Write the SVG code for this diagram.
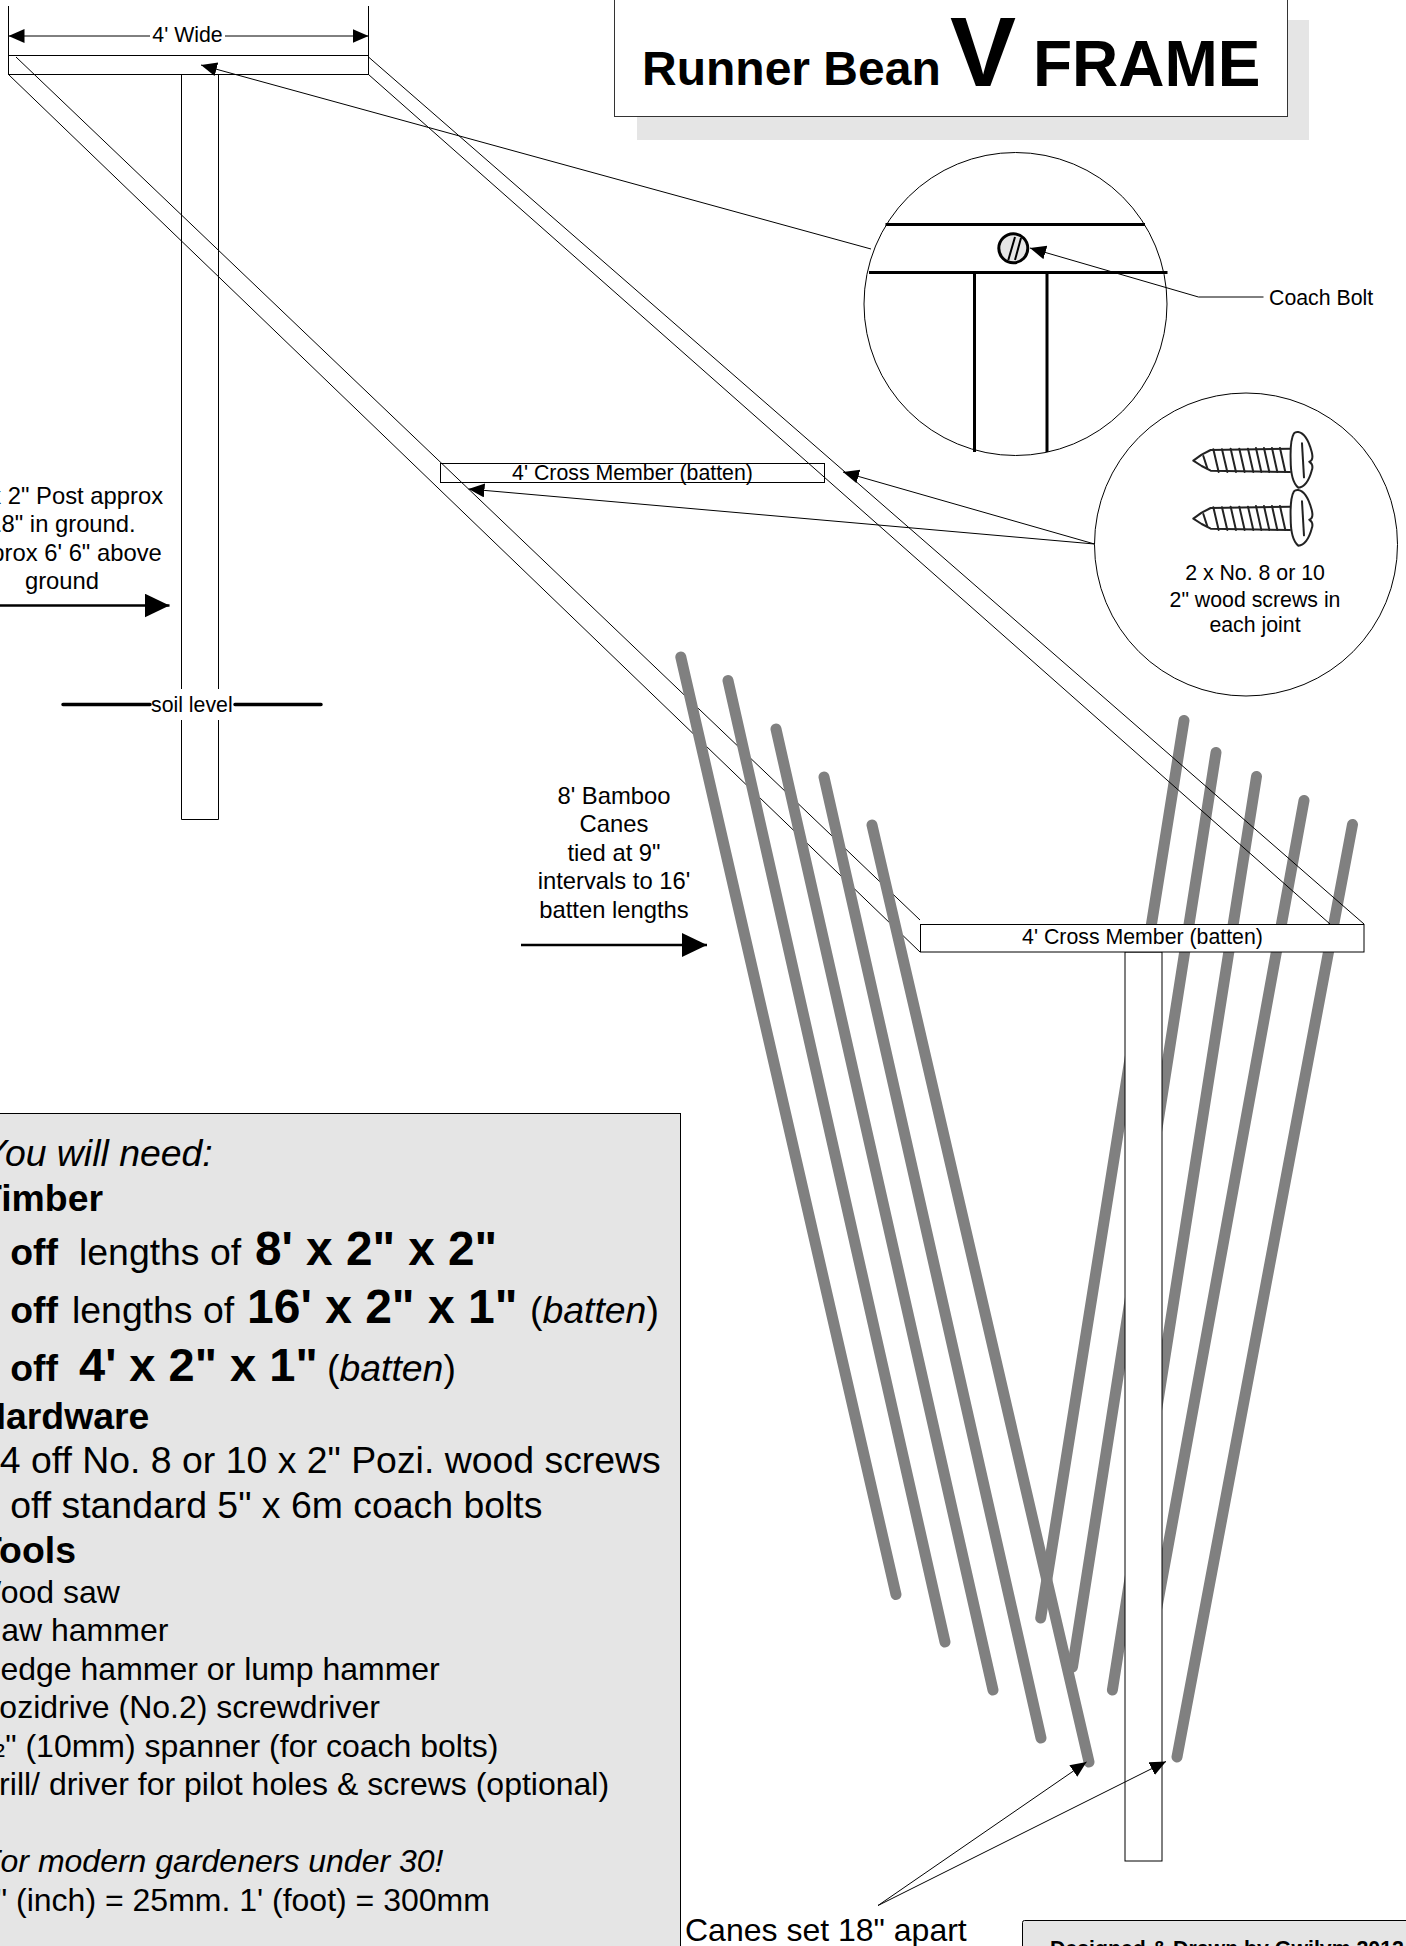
<svg xmlns="http://www.w3.org/2000/svg" width="1406" height="1946" viewBox="0 0 1406 1946">
<style>
text{font-family:"Liberation Sans",Arial,sans-serif;fill:#000}
.s{font-size:21.3px}.m{font-size:23.8px}.c{text-anchor:middle}
.l{font-size:37.4px}.t{font-size:32px}.h{font-size:47.7px;font-weight:bold}.b{font-weight:bold}.i{font-style:italic}
.ln{fill:none;stroke:#000;stroke-width:1}
.box{fill:#fff;stroke:#000;stroke-width:1}
.open{fill:none;stroke:#000;stroke-width:1}
.thick{fill:none;stroke:#000;stroke-width:3.5;stroke-linecap:round}
.cane{fill:none;stroke:#808080;stroke-width:11;stroke-linecap:round}
.panel{fill:#e5e5e5;stroke:#000;stroke-width:1}
.arr{fill:none;stroke:#000;stroke-width:1;marker-end:url(#a)}
.big{fill:none;stroke:#000;stroke-width:2.5;marker-end:url(#A)}
.sc{fill:none;stroke:#222;stroke-width:6;stroke-linejoin:round;stroke-linecap:round}
</style>
<defs>
<marker id="a" markerUnits="userSpaceOnUse" markerWidth="18" markerHeight="16" refX="16" refY="7" orient="auto"><path d="M0,0L16,7L0,14Z" fill="#000"/></marker>
<marker id="A" markerUnits="userSpaceOnUse" markerWidth="26" markerHeight="26" refX="25" refY="12" orient="auto"><path d="M0,0L25,12L0,24Z" fill="#000"/></marker>
<filter id="soft" x="-5%" y="-5%" width="110%" height="110%"><feGaussianBlur stdDeviation="1"/></filter>
<g id="screw" class="sc" filter="url(#soft)">
<path d="M70,152L95,134L122,120L360,116M70,152L95,168L122,182L360,186"/>
<path d="M100,138L112,175M130,118L146,186M156,118L172,186M182,116L198,186M208,116L224,186M234,116L250,186M258,114L274,186M282,114L298,186M306,114L322,186M330,114L346,186"/>
<path d="M372,70Q360,90 362,150Q362,215 385,233Q412,230 425,182Q432,165 418,155Q432,150 425,125Q410,70 385,66Q376,65 372,70ZM396,100L402,202"/>
</g>
</defs>

<g id="title">
<rect x="637" y="20" width="672" height="120" fill="#e5e5e5"/>
<rect class="box" x="614.5" y="-5" width="673" height="121.5" style="stroke:#333"/>
<text class="b" y="85" x="642" font-size="48">Runner Bean</text>
<text class="b" y="86" x="950" font-size="99">V</text>
<text class="b" y="86" x="1033" font-size="64">FRAME</text>
</g>

<g id="canes-right">
<path class="cane" d="M1184,720.5L1040.7,1618M1216,752.5L1072.5,1667M1256.5,776.5L1112.4,1690M1304,800.5L1140,1700M1352.5,824.5L1177,1757"/>
</g>

<g id="post-1"><path class="ln" d="M181.5,74.5V689M218.5,74.5V689M181.5,720V819.5H218.5V720"/></g>
<g id="post-2"><rect class="box" x="1125" y="952" width="37" height="909" style="stroke-width:1;stroke:#000"/></g>

<g id="batten-left"><path class="ln" d="M8.5,74.5L920,952M16,57L920,920"/></g>
<g id="batten-right"><path class="ln" d="M368.5,74.5L1330,924M368.5,57L1364,924"/></g>

<g id="canes-left">
<path class="cane" d="M680.8,657L896,1594.5M728,680.5L945,1642M776,729L993,1690M824,777L1041,1738M872,825L1089,1762"/>
</g>

<g id="batten-top"><rect class="open" x="8.5" y="55.5" width="360" height="19"/></g>
<g id="dimension-width">
<path class="ln" d="M8.5,6V55M368.5,6V55"/>
<path class="ln" d="M150,36H8.5" style="marker-end:url(#a)"/>
<path class="ln" d="M225,36H368.5" style="marker-end:url(#a)"/>
<text class="s c" x="187.5" y="41.5">4' Wide</text>
</g>

<g id="cross-member-mid"><rect class="open" x="440.5" y="463.5" width="384" height="19"/>
<text class="s c" x="632.5" y="480">4' Cross Member (batten)</text></g>
<g id="cross-member-low"><rect class="box" x="920.5" y="924.5" width="443.5" height="27.5"/>
<text class="s c" x="1142.5" y="944">4' Cross Member (batten)</text></g>

<g id="post-label">
<text class="m c" x="62" y="503.5">2" x 2" Post approx</text>
<text class="m c" x="62" y="532">18" in ground.</text>
<text class="m c" x="62" y="560.5">Approx 6' 6" above</text>
<text class="m c" x="62" y="589">ground</text>
</g>
<g id="soil-level">
<path class="thick" d="M63,704.5H150M235,704.5H321"/>
<text class="s" x="151" y="711.5">soil level</text>
</g>
<g id="bamboo-label">
<text class="m c" x="614" y="804">8' Bamboo</text>
<text class="m c" x="614" y="832">Canes</text>
<text class="m c" x="614" y="860.5">tied at 9"</text>
<text class="m c" x="614" y="889">intervals to 16'</text>
<text class="m c" x="614" y="918">batten lengths</text>
</g>

<g id="connectors">
<path class="arr" d="M871,249L201,65"/>
<path class="arr" d="M1263.5,297H1198.5L1030,248"/>
<path class="arr" d="M1094.5,544L843,472"/>
<path class="arr" d="M1094.5,544L468.5,489"/>
<path class="big" d="M0,605.5H169.5"/>
<path class="big" d="M521,945H707"/>
<path class="arr" d="M878,1905.5L1086.5,1762"/>
<path class="arr" d="M878,1905.5L1166,1761.5"/>
</g>

<g id="detail-bolt">
<circle class="open" cx="1015.5" cy="304" r="151.5"/>
<path class="thick" style="stroke-linecap:butt;stroke-width:3" d="M885.5,224.5H1145M869,272.5H1167.5M974.5,273V452M1047,273V452"/>
<circle cx="1013.3" cy="248.3" r="14.5" fill="#e5e5e5" stroke="#000" stroke-width="3"/>
<path fill="none" stroke="#000" stroke-width="2" d="M1015,237L1008.3,260M1021,238L1015,260"/>
<text class="s" x="1269" y="304.5">Coach Bolt</text>
</g>

<g id="detail-screws">
<circle class="open" cx="1246" cy="544.5" r="151.5"/>
<use href="#screw" transform="translate(1170,410) scale(.3333)"/>
<use href="#screw" transform="translate(1170,468) scale(.3333)"/>
<text class="s c" x="1255" y="580">2 x No. 8 or 10</text>
<text class="s c" x="1255" y="606.5">2" wood screws in</text>
<text class="s c" x="1255" y="632">each joint</text>
</g>

<g id="materials">
<rect class="panel" x="-5" y="1113.5" width="685.5" height="840"/>
<text class="l i" x="-18" y="1166">You will need:</text>
<text class="l b" x="-21" y="1210.5">Timber</text>
<text class="l" y="1264.5"><tspan class="b" x="-21">2 off</tspan><tspan x="79">lengths of</tspan></text>
<text class="h" x="255" y="1264.5">8' x 2" x 2"</text>
<text class="l" y="1323"><tspan class="b" x="-21">2 off</tspan><tspan x="72">lengths of</tspan></text>
<text class="h" x="247" y="1323" style="font-size:48px">16' x 2" x 1"</text>
<text class="l" y="1323"><tspan x="530">(</tspan><tspan class="i">batten</tspan>)</text>
<text class="l" y="1381"><tspan class="b" x="-21">2 off</tspan></text>
<text class="h" x="79" y="1381" style="font-size:47px">4' x 2" x 1"</text>
<text class="l" y="1381"><tspan x="327">(</tspan><tspan class="i">batten</tspan>)</text>
<text class="l b" x="-21" y="1429">Hardware</text>
<text class="l" x="-21" y="1472.5">24 off No. 8 or 10 x 2" Pozi. wood screws</text>
<text class="l" x="-21" y="1517.5">2 off standard 5" x 6m coach bolts</text>
<text class="l b" x="-21" y="1562.5">Tools</text>
<text class="t" x="-29" y="1602.5">Wood saw</text>
<text class="t" x="-29" y="1641">Claw hammer</text>
<text class="t" x="-28" y="1679.5">Sledge hammer or lump hammer</text>
<text class="t" x="-22" y="1718">Pozidrive (No.2) screwdriver</text>
<text class="t" x="-21.5" y="1757">½" (10mm) spanner (for coach bolts)</text>
<text class="t" x="-24" y="1795">Drill/ driver for pilot holes &amp; screws (optional)</text>
<text class="t i" x="-19" y="1872">For modern gardeners under 30!</text>
<text class="t" x="-22" y="1910.5">1" (inch) = 25mm. 1' (foot) = 300mm</text>
</g>

<g id="canes-label"><text class="t" x="685" y="1941">Canes set 18" apart</text></g>

<g id="credit">
<rect x="1022.5" y="1920.5" width="400" height="60" rx="2" fill="#e5e5e5" stroke="#000"/>
<text class="s b" x="1050" y="1956">Designed &amp; Drawn by Gwilym 2012</text>
</g>
</svg>
